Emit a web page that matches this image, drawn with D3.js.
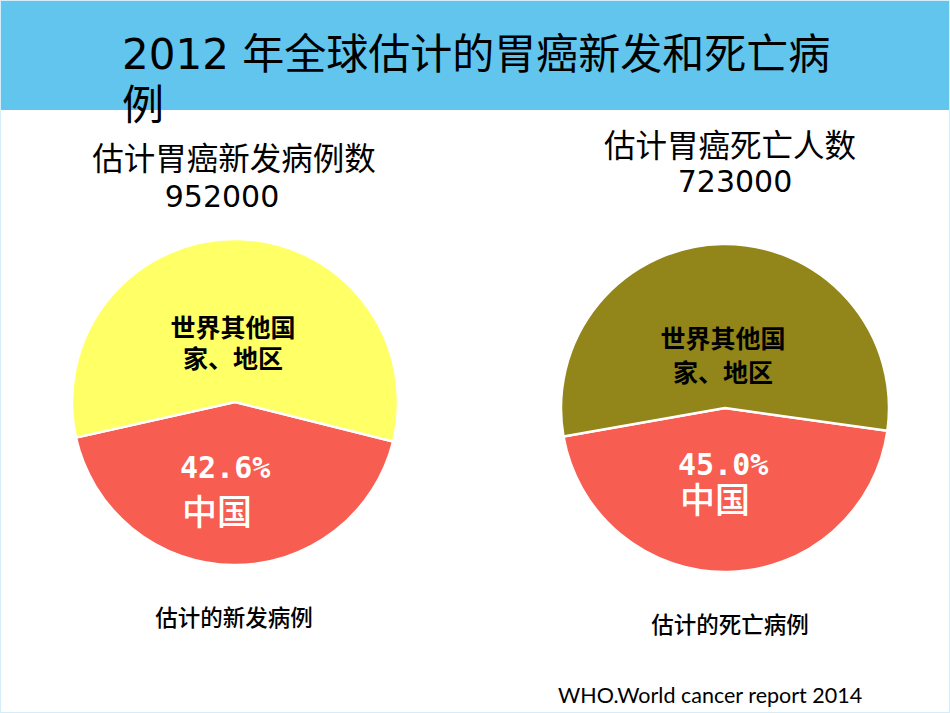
<!DOCTYPE html>
<html>
<head>
<meta charset="utf-8">
<script src="https://cdn.jsdelivr.net/npm/d3@7"></script>
<style>
  body { margin: 0; background: #fff; }
  svg text { font-family: "DejaVu Sans", "Noto Sans CJK SC", sans-serif; }
</style>
</head>
<body>
<div id="output"></div>
<script>
// data
var regions = ["中国", "世界其他国家、地区"];
var newCases = [42.6, 57.4];
var deaths = [45.0, 55.0];
var pieTitles = ["估计胃癌新发病例数", "估计胃癌死亡人数"];
var pieTotals = ["952000", "723000"];
var pieCaptions = ["估计的新发病例", "估计的死亡病例"];
var otherLabel = ["世界其他国", "家、地区"];
var title = ["2012 年全球估计的胃癌新发和死亡病", "例"];
var source = "WHO.World cancer report 2014";

var w = 950, h = 713;

var svg = d3.select("#output").append("svg")
    .attr("width", w)
    .attr("height", h);

// slide frame + header band
svg.append("rect")
    .attr("x", 0.5).attr("y", 0.5)
    .attr("width", w - 1).attr("height", h - 1)
    .attr("fill", "none")
    .attr("stroke", "#d4edf8");

svg.append("rect")
    .attr("x", 1).attr("y", 1)
    .attr("width", w - 2).attr("height", 109)
    .attr("fill", "#62c5ee");

svg.selectAll(".title")
    .data(title)
    .enter()
    .append("text")
    .attr("class", "title")
    .attr("x", 122)
    .attr("y", function (d, i) { return 69 + i * 51; })
    .attr("font-size", 42)
    .attr("fill", "#000")
    .text(function (d) { return d; });

var charts = [
    {values: newCases, cx: 235, cy: 402, r: 163, rot: 0.7,
     fill: ["#f75d50", "#ffff66"],
     titleX: 234, titleY: 170, totalX: 222, totalY: 207,
     otherY: [337, 368], chinaX: 180, chinaY: [478, 525],
     capX: 234, capY: 626},
    {values: deaths, cx: 725, cy: 408, r: 164, rot: -1,
     fill: ["#f75d50", "#928519"],
     titleX: 730, titleY: 157, totalX: 735, totalY: 192,
     otherY: [348, 382], chinaX: 678, chinaY: [475, 513],
     capX: 730, capY: 633}
];

charts.forEach(function (c, k) {
    var chinaAngle = c.values[0] / 100 * 2 * Math.PI;
    var start = Math.PI + c.rot * Math.PI / 180 - chinaAngle / 2;

    var pie = d3.pie()
        .sort(null)
        .value(function (d) { return d; })
        .startAngle(start)
        .endAngle(start + 2 * Math.PI);

    var arc = d3.arc()
        .innerRadius(0)
        .outerRadius(c.r);

    var g = svg.append("g")
        .attr("transform", "translate(" + c.cx + "," + c.cy + ")");

    g.selectAll(".slice")
        .data(pie(c.values))
        .enter()
        .append("path")
        .attr("class", "slice")
        .attr("d", arc)
        .attr("fill", function (d, i) { return c.fill[i]; })
        .attr("stroke", "#fff")
        .attr("stroke-width", 2.5)
        .attr("stroke-linejoin", "round");

    svg.append("text")
        .attr("x", c.titleX).attr("y", c.titleY)
        .attr("text-anchor", "middle")
        .attr("font-size", 31.5)
        .text(pieTitles[k]);

    svg.append("text")
        .attr("x", c.totalX).attr("y", c.totalY)
        .attr("text-anchor", "middle")
        .attr("font-size", 30)
        .text(pieTotals[k]);

    svg.selectAll(".other" + k)
        .data(otherLabel)
        .enter()
        .append("text")
        .attr("class", "other" + k)
        .attr("x", c.cx - 2)
        .attr("y", function (d, i) { return c.otherY[i]; })
        .attr("text-anchor", "middle")
        .attr("font-size", 25)
        .attr("font-weight", "bold")
        .style("font-family", "'Noto Sans CJK SC', sans-serif")
        .text(function (d) { return d; });

    svg.append("text")
        .attr("x", c.chinaX).attr("y", c.chinaY[0])
        .attr("font-size", 30)
        .attr("font-weight", "bold")
        .attr("fill", "#fff")
        .style("font-family", "'DejaVu Sans Mono', monospace")
        .text(c.values[0].toFixed(1) + "%");

    svg.append("text")
        .attr("x", c.chinaX + 2).attr("y", c.chinaY[1])
        .attr("font-size", 35)
        .attr("font-weight", 500)
        .attr("fill", "#fff")
        .style("font-family", "'Noto Sans CJK SC', sans-serif")
        .text(regions[0]);

    svg.append("text")
        .attr("x", c.capX).attr("y", c.capY)
        .attr("text-anchor", "middle")
        .attr("font-size", 22.5)
        .attr("font-weight", 500)
        .style("font-family", "'Noto Sans CJK SC', sans-serif")
        .text(pieCaptions[k]);
});

svg.append("text")
    .attr("x", 558).attr("y", 703)
    .attr("font-size", 21.5)
    .style("font-family", "Lato, 'Liberation Sans', sans-serif")
    .text(source);
</script>
</body>
</html>
